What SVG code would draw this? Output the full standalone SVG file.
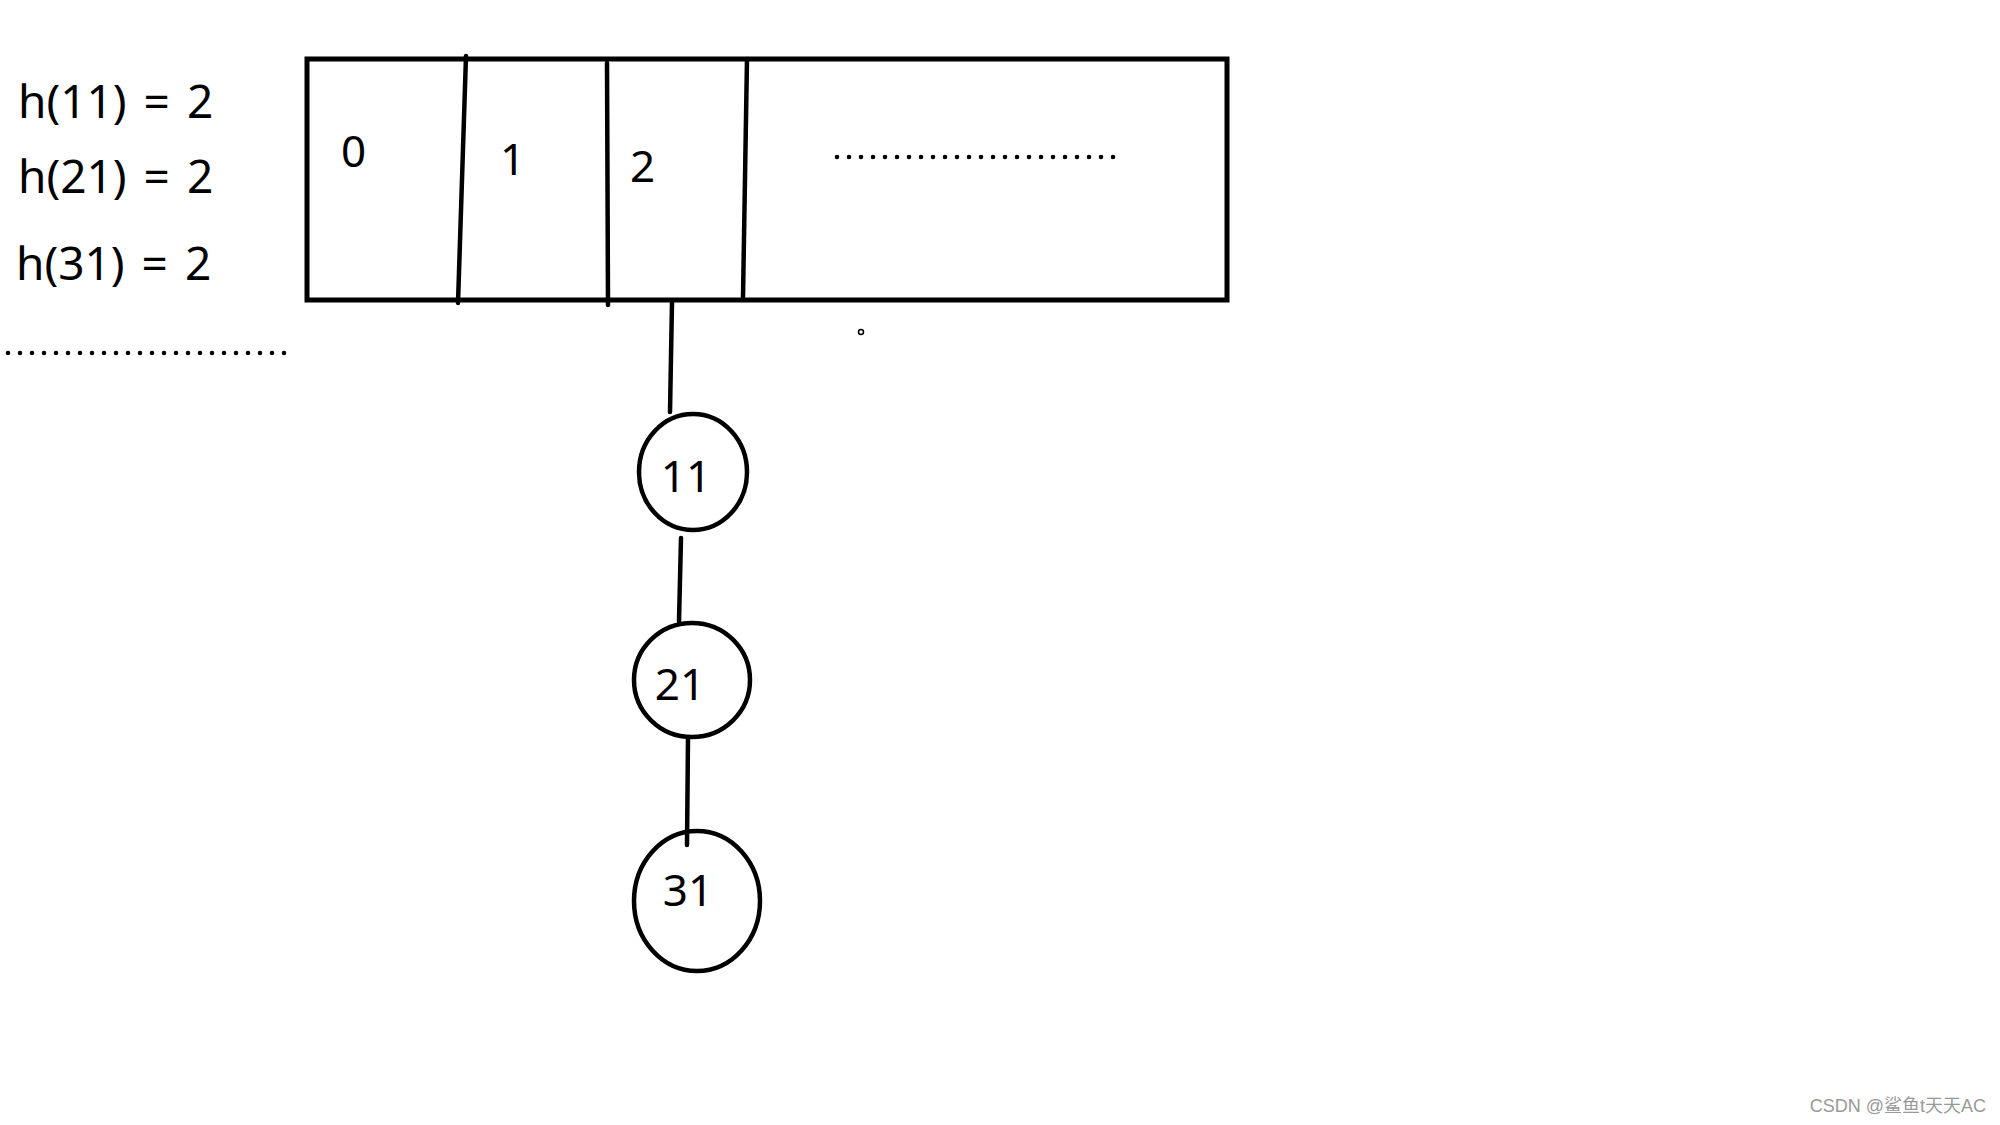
<svg xmlns="http://www.w3.org/2000/svg" width="2000" height="1125" viewBox="0 0 2000 1125">
<style>
.ln{stroke:#000;stroke-width:4.5;fill:none;stroke-linecap:round}
.nd{stroke:#000;stroke-width:4.5;fill:none}
.t{font-family:"Noto Sans","Open Sans","DejaVu Sans",sans-serif;fill:#000}
.eq{font-size:46px;word-spacing:5px}
.cell{font-size:44px}
.num{font-size:44px;text-anchor:middle}
.dots{stroke:#000;stroke-width:4.6;stroke-linecap:round;stroke-dasharray:0 12;fill:none}
</style>
<rect width="2000" height="1125" fill="#fff"/>
<g id="formulas">
<text class="t eq" x="18" y="118">h(11) = 2</text>
<text class="t eq" x="18" y="193">h(21) = 2</text>
<text class="t eq" x="16" y="280">h(31) = 2</text>
<path class="dots" d="M8 353 H285"/>
</g>
<g id="table">
<rect x="307" y="59" width="920" height="241" fill="none" stroke="#000" stroke-width="5"/>
<path class="ln" d="M466 56 L458 303"/>
<path class="ln" d="M607 63 L608 305"/>
<path class="ln" d="M747 59 L743 297"/>
<text class="t cell" x="341" y="167">0</text>
<text class="t cell" x="500" y="175">1</text>
<text class="t cell" x="630" y="182">2</text>
<path class="dots" d="M837 157 H1114"/>
<circle cx="861" cy="332" r="2.5" fill="none" stroke="#000" stroke-width="1.5"/>
</g>
<g id="node-11">
<ellipse class="nd" cx="693" cy="472" rx="54" ry="58"/>
<text class="t num" x="686" y="492">11</text>
</g>
<g id="node-21">
<ellipse class="nd" cx="692" cy="680" rx="58" ry="57"/>
<text class="t num" x="680" y="700">21</text>
</g>
<g id="node-31">
<ellipse class="nd" cx="697" cy="901" rx="63" ry="70"/>
<text class="t num" x="688" y="906">31</text>
</g>
<g id="connectors">
<path class="ln" d="M672 302 L670 412"/>
<path class="ln" d="M681 538 L679 621"/>
<path class="ln" d="M688 738 L687 845"/>
</g>
<g id="watermark">
<text x="1986" y="1112" text-anchor="end" font-family="'Liberation Sans','Noto Sans CJK SC',sans-serif" font-size="18" fill="#999">CSDN @鲨鱼t天天AC</text>
</g>
</svg>
